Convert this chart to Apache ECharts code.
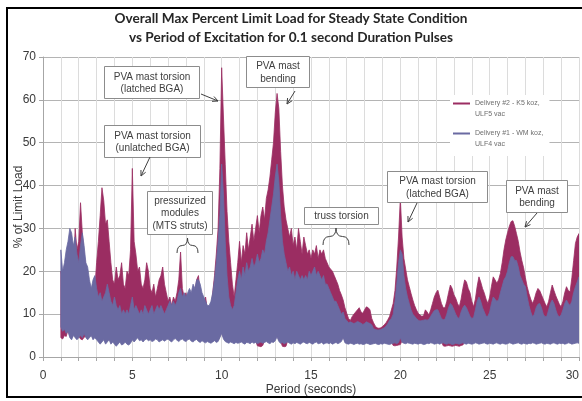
<!DOCTYPE html>
<html>
<head>
<meta charset="utf-8">
<script src="https://cdn.jsdelivr.net/npm/echarts@6/dist/echarts.min.js"></script>
<style>
  html, body { margin: 0; padding: 0; background: #fff; }
  #chart { width: 582px; height: 401px; }
</style>
</head>
<body>
<div id="chart"></div>
<script>
// Sampling grid of the excitation period (seconds)
const periodFirst = 1.0;
const periodStep = 0.1;

// Delivery #2 - K5 koz, ULF5 vac : peak and floor of the response at each period
const delivery2Max = [
  20,18,21,19,17,18,20,19,30,25,
  27,36,29,24,21,18,17,15,17,16,
  22,27,33,39.5,36.5,31,32,27,22,18,
  17,21,18,19,22,17,16,20,19,25,
  44,27,24,20,21,17,16,18,22,20,
  16,15,17,14,16,18,19,21,17,15,
  13,14,12,14,13,15,18,24.5,16,14,
  15,13,15,14,16,15,18,19,15,13,
  12,14,11,10,11,15,19,24,30,44,
  67.5,56,45,34,27,22,17,14,18,22,
  27,22,26,24,29,25,28,31,27,30,
  33,29,33,35,32,37,39,42,46,50,
  57,61.5,58,48,40,35,32,30,28,30,
  26,28,25,30,27,24,28,26,24,25,
  23,25,24,26,23,25,24,25,23,22,
  21,20.5,20,19,18,17,15.5,14.5,13.3,11.5,
  10.2,9,8.5,9.4,10,10.5,11,11.5,10.5,10.2,
  11,11.7,11.5,11,9,8,7.2,6.8,6.7,6.8,
  7.1,7.5,8,8.7,9.5,11,12.5,15.5,21,28,
  37,28,23,20.5,18,16.4,14.8,13.3,12,11,
  10.2,9.8,9.5,9.6,11,10.5,9.8,11,12.5,14,
  15,15.6,14,12.5,11.5,11.5,13,15,16.8,16,
  14.5,13.7,12.5,11.7,13.5,16,18,17.5,16,15,
  13,11.7,13.5,16.5,18.7,17.5,16,14.9,13.5,12.5,
  14,16.5,18.7,18,17.2,18,19.5,22,25,27.3,
  29,30.5,31.6,31.8,30.5,28.8,27,24.5,22.5,20.8,
  18.5,16.4,14.8,13.5,12.5,13.5,15,16,15.5,14.5,
  13.5,12.5,11.7,13,15,16.8,15.5,14.3,13.3,12.3,
  11.7,13,15,16.4,15.5,15.2,18.5,22.5,26.5,28,
  28.8
];
const delivery2Min = [
  4.5,4.2,5,4.8,6.3,4.9,4.4,5.4,4.9,4.4,
  4.9,4.2,4,4.6,4.9,4.4,4.9,5.4,4.4,4.9,
  4.4,3.9,3.4,3.9,4.4,3.4,3.9,4.4,3.4,3.9,
  3.4,2.9,3.4,3.9,3.2,3.4,3.9,3.4,3.2,3.6,
  4.4,3.9,4.4,4.9,4.2,4.4,3.9,4.4,4.6,4.2,
  4.4,4,4.2,4.6,4.4,3.9,4.2,4.4,4.1,4.4,
  4.6,4.2,3.9,4.4,4.7,4.3,4,4.4,4.6,4.2,
  4,4.4,4.6,4.1,3.9,4.3,4.5,4,3.8,4.2,
  3.9,3.7,4,3.8,3.6,3.9,4.2,3.8,4,4.9,
  5.9,4.6,4,3.8,3.6,3.9,3.7,3.5,3.8,3.6,
  3.7,3.9,3.6,3.4,3.8,3.7,3.5,3.9,3.6,3.8,
  2.6,2.5,2.4,2.7,3.8,4,3.7,3.5,3.9,3.8,
  4.2,5.1,4,3.6,2.5,2.4,2.5,3.9,3.6,3.4,
  3.7,3.5,3.8,3.6,3.4,3.7,3.9,3.6,3.5,3.8,
  3.6,3.4,3.7,3.9,3.5,3.6,3.8,3.4,3.6,3.7,
  3.5,3.7,3.4,3.6,3.8,3.5,3.7,4,4.9,3.7,
  3.5,3.4,3.6,3.5,3.3,3.5,3.6,3.4,3.5,3.3,
  3.4,3.6,3.5,3.3,3.4,3.5,3.6,3.4,3.3,3.5,
  3.4,3.6,3.5,3.4,3.3,3.5,2.7,2.6,2.7,2.8,
  2.9,3.8,3.6,3.5,3.7,3.6,3.5,3.4,3.6,3.5,
  3.4,3.6,3.5,3.3,3.4,3.6,3.5,3.7,3.6,3.4,
  3.5,3.6,3.4,3.6,2.6,2.5,2.6,2.7,2.6,2.5,
  2.6,2.7,2.6,2.5,2.7,2.8,3.5,3.4,3.6,3.5,
  3.4,3.5,3.7,3.6,3.4,3.5,3.6,3.7,3.5,3.4,
  3.6,3.5,3.4,3.6,3.7,3.5,3.4,3.6,3.5,3.4,
  3.5,3.7,3.6,3.4,3.5,3.6,3.7,3.5,3.4,3.6,
  3.5,3.4,3.6,3.5,3.7,3.6,3.4,3.5,3.6,3.7,
  3.5,3.4,3.6,3.5,3.4,3.6,3.7,3.5,3.4,3.6,
  3.5,3.6,3.4,3.5,3.7,3.6,3.4,3.5,3.6,3.7,
  3.6
];

// Delivery #1 - WM koz, ULF4 vac : peak and floor of the response at each period
const delivery1Max = [
  25,20,22,25,27,30,29,26,28,24,
  22,26,29,26,22,21,18,16,18,19,
  16,14,15,13,14,15,17,15,13,12,
  14,12,11,12,10,11,10,11,10,12,
  14,11,12,11,10,11,10,12,11,10,
  11,12,10,11,12,11,12,11,10,11,
  12,13,12,13,12,13,15,16,14,15,
  14,15,16,15,17,16,18,18,17,15,
  14,13,12,12,13,15,18,22,27,33,
  45,38,27,19,14,12,11,12,15,18,
  20,18,21,19,22,20,21,23,21,22,
  24,22,23,25,24,27,29,32,35,38,
  42,45,41,33,27,24,22,20,21,19,
  20,18,20,19,18,19,18,19,18,20,
  19,20,21,19,20,19,18,19,17,17,
  16,15,14,13,13,12,11,10,10.5,9,
  8.5,8,8.2,8,7.8,8,8.3,8.1,7.9,7.6,
  7.8,8.2,8,7.8,7.5,6.6,6.4,6.3,6.3,6.4,
  6.6,6.8,7.2,7.8,8.6,9,10,13,17,22,
  25,24,19,16,14,12.5,11,10,9.5,9,
  8.6,8.4,8.5,8.6,8.7,8.6,8.8,9.5,10.2,10.8,
  11,11,10,9,8.7,8.8,10,11.5,12.5,12,
  11,10,9.2,9,10.5,11.5,12.1,11.5,10.5,9.5,
  9,9.2,11,13,14,13,11.5,10.5,9.5,9.5,
  10.5,12.5,14,13.5,13,13.3,15,16.5,18,18.7,
  20,22,23.4,23.4,22.5,22.5,21,19,18,17,
  16.4,14,12,10.5,9.4,10,11.5,12.3,12.5,11.5,
  10,9.4,9.5,11,12.5,13.3,12.5,11,9.8,9.4,
  9.8,11,12.5,13.3,12.5,12,13,15,16.4,17.5,
  18.7
];
const delivery1Min = [
  7,6,6.5,5.5,6,4.5,4,5,4.5,4,
  4.5,5,4.5,5.5,4.5,4,4.5,5,4,4.5,
  4,3.5,3,3.5,4,3,3.5,4,3,3.5,
  3,2.5,3,3.5,2.8,3,3.5,3,2.8,3.2,
  4,3.5,4,4.5,3.8,4,3.5,4,4.2,3.8,
  4,3.6,3.8,4.2,4,3.5,3.8,4,3.7,4,
  4.2,3.8,3.5,4,4.3,3.9,3.6,4,4.2,3.8,
  3.6,4,4.2,3.7,3.5,3.9,4.1,3.6,3.4,3.8,
  3.5,3.3,3.6,3.4,3.2,3.5,3.8,3.4,3.6,4.5,
  5.5,4.2,3.6,3.4,3.2,3.5,3.3,3.1,3.4,3.2,
  3.3,3.5,3.2,3,3.4,3.3,3.1,3.5,3.2,3.4,
  3.1,3.3,3.5,3.2,3.4,3.6,3.3,3.1,3.5,3.4,
  3.8,4.7,3.6,3.2,3.4,3.1,3.3,3.5,3.2,3,
  3.3,3.1,3.4,3.2,3,3.3,3.5,3.2,3.1,3.4,
  3.2,3,3.3,3.5,3.1,3.2,3.4,3,3.2,3.3,
  3.1,3.3,3,3.2,3.4,3.1,3.3,3.6,4.5,3.3,
  3.1,3,3.2,3.1,2.9,3.1,3.2,3,3.1,2.9,
  3,3.2,3.1,2.9,3,3.1,3.2,3,2.9,3.1,
  3,3.2,3.1,3,2.9,3.1,3.2,3.3,3.1,3.4,
  4.5,3.4,3.2,3.1,3.3,3.2,3.1,3,3.2,3.1,
  3,3.2,3.1,2.9,3,3.2,3.1,3.3,3.2,3,
  3.1,3.2,3,3.2,3.3,3.1,3,3.2,3.1,2.9,
  3,3.2,3.1,3,3.2,3.3,3.1,3,3.2,3.1,
  3,3.1,3.3,3.2,3,3.1,3.2,3.3,3.1,3,
  3.2,3.1,3,3.2,3.3,3.1,3,3.2,3.1,3,
  3.1,3.3,3.2,3,3.1,3.2,3.3,3.1,3,3.2,
  3.1,3,3.2,3.1,3.3,3.2,3,3.1,3.2,3.3,
  3.1,3,3.2,3.1,3,3.2,3.3,3.1,3,3.2,
  3.1,3.2,3,3.1,3.3,3.2,3,3.1,3.2,3.3,
  3.2
];

const seriesNames = ['Delivery #2 - K5 koz,\nULF5 vac', 'Delivery #1 - WM koz,\nULF4 vac'];
const seriesColors = ['#9b2d62', '#6a6aa2'];
const xTicks = { min: 0, max: 30, labelEvery: 5 };
const yTicks = { min: 0, max: 70, step: 10 };

const FONT = '"Liberation Sans", Arial, sans-serif';
const TEXT = '#3a3a3a';

function periodAt(i) { return +(periodFirst + periodStep * i).toFixed(2); }

// One filled band per delivery: upper envelope forward, floor backward,
// every vertex placed through the cartesian scales of the grid.
function bandSeries(name, color, hi, lo) {
  return {
    name: name, type: 'custom', coordinateSystem: 'cartesian2d',
    silent: true, clip: true,
    itemStyle: { color: color },
    data: [[periodAt(0), lo[0]]],
    encode: { x: 0, y: 1 },
    renderItem: function (params, api) {
      const pts = [];
      for (let i = 0; i < hi.length; i++) pts.push(api.coord([periodAt(i), hi[i]]));
      for (let i = lo.length - 1; i >= 0; i--) pts.push(api.coord([periodAt(i), lo[i]]));
      return {
        type: 'polygon',
        shape: { points: pts },
        style: { fill: color, stroke: color, lineWidth: 0.8 }
      };
    }
  };
}

// Callout boxes, pointer arrows and braces
const callouts = [
  { box: [104, 66, 95, 32], lines: ['PVA mast torsion', '(latched BGA)'], arrow: [201, 94, 218, 101] },
  { box: [104, 125, 96, 32], lines: ['PVA mast torsion', '(unlatched BGA)'], arrow: [150, 157, 141, 176] },
  { box: [246, 56, 63, 31], lines: ['PVA mast', 'bending'], arrow: [295, 91, 287, 104] },
  { box: [147, 191, 65, 43], lines: ['pressurized', 'modules', '(MTS struts)'], brace: [177, 198, 238, 253] },
  { box: [304, 207, 74, 17], lines: ['truss torsion'], brace: [323, 349, 228, 245] },
  { box: [387, 171, 100, 31], lines: ['PVA mast torsion', '(latched BGA)'], arrow: [417, 203, 408, 222] },
  { box: [506, 180, 61, 32], lines: ['PVA mast', 'bending'], arrow: [537, 213, 525, 227] }
];

function calloutGraphics() {
  const out = [];
  const ink = '#404040';
  callouts.forEach(c => {
    const [x, y, w, h] = c.box;
    out.push({ type: 'rect', z: 100, shape: { x: x + 0.5, y: y + 0.5, width: w, height: h },
      style: { fill: '#fff', stroke: '#8c8c8c', lineWidth: 1 } });
    out.push({ type: 'text', z: 101, x: x + w / 2 + 0.5, y: y + h / 2 + 1,
      style: { text: c.lines.join('\n'), fontFamily: FONT, fontSize: 10, lineHeight: 12.5,
        fill: ink, align: 'center', verticalAlign: 'middle' } });
    if (c.arrow) {
      const [x1, y1, x2, y2] = c.arrow;
      const a = Math.atan2(y2 - y1, x2 - x1), len = 6, s = 0.45;
      out.push({ type: 'line', z: 101, shape: { x1, y1, x2, y2 }, style: { stroke: ink, lineWidth: 1 } });
      out.push({ type: 'polyline', z: 101, shape: { points: [
        [x2 - len * Math.cos(a - s), y2 - len * Math.sin(a - s)], [x2, y2],
        [x2 - len * Math.cos(a + s), y2 - len * Math.sin(a + s)] ] },
        style: { stroke: ink, lineWidth: 1, fill: null } });
    }
    if (c.brace) {
      const [l, r, top, bot] = c.brace;
      const m = (l + r) / 2, mid = (top + bot) / 2;
      const q = (x1, y1, cx, cy, x2, y2) => ({ type: 'bezierCurve', z: 101,
        shape: { x1, y1, cpx1: cx, cpy1: cy, x2, y2 }, style: { stroke: ink, lineWidth: 1, fill: null } });
      out.push(q(l, bot, l, mid, (l + m) / 2, mid));
      out.push(q((l + m) / 2, mid, m, mid, m, top));
      out.push(q(m, top, m, mid, (m + r) / 2, mid));
      out.push(q((m + r) / 2, mid, r, mid, r, bot));
    }
  });
  // outer chart border
  out.push({ type: 'rect', z: 120, shape: { x: 7, y: 8, width: 577, height: 389 },
    style: { fill: null, stroke: '#000', lineWidth: 2 } });
  return out;
}

const chart = echarts.init(document.getElementById('chart'), null, { renderer: 'canvas' });

chart.setOption({
  animation: false,
  backgroundColor: '#fff',
  title: {
    text: 'Overall Max Percent Limit Load for Steady State Condition\nvs Period of Excitation for 0.1 second Duration Pulses',
    left: 'center', top: 4,
    textStyle: { fontFamily: 'Lato, ' + FONT, fontWeight: 'bold', fontSize: 13.6, lineHeight: 19, color: '#262626' }
  },
  legend: {
    orient: 'vertical', left: 450, top: 95,
    backgroundColor: '#fff', padding: [3, 6, 6, 3], itemGap: 8,
    itemWidth: 17, itemHeight: 22,
    icon: 'path://M0,4.5H17V6.5H0Z M0,0H0.01V0.01H0Z M0,22H0.01V22.01H0Z',
    selectedMode: false,
    textStyle: { fontFamily: FONT, fontSize: 7, lineHeight: 11, color: '#6e6e6e' },
    data: seriesNames.map((n, i) => ({ name: n, itemStyle: { color: seriesColors[i] } }))
  },
  grid: { left: 43, right: 2, top: 57, bottom: 44, containLabel: false },
  xAxis: {
    type: 'value', min: xTicks.min, max: xTicks.max, interval: 1,
    name: 'Period (seconds)', nameLocation: 'middle', nameGap: 27,
    nameMoveOverlap: false,
    nameTextStyle: { fontFamily: FONT, fontSize: 12, color: TEXT },
    axisLine: { show: true, lineStyle: { color: '#a6a6a6' } },
    axisTick: { show: true, length: 4, lineStyle: { color: '#a6a6a6' } },
    axisLabel: {
      fontFamily: FONT, fontSize: 12, color: TEXT, margin: 13, alignMaxLabel: 'right',
      formatter: v => (Math.round(v) % xTicks.labelEvery === 0 ? String(Math.round(v)) : '')
    },
    splitLine: { show: true, lineStyle: { color: '#dcdcdc', width: 1 } }
  },
  yAxis: {
    type: 'value', min: yTicks.min, max: yTicks.max, interval: yTicks.step,
    name: '% of Limit Load', nameLocation: 'middle', nameGap: 18, nameRotate: 90,
    nameMoveOverlap: false,
    nameTextStyle: { fontFamily: FONT, fontSize: 12, color: TEXT },
    axisLine: { show: true, lineStyle: { color: '#a6a6a6' } },
    axisTick: { show: true, length: 4, lineStyle: { color: '#a6a6a6' } },
    axisLabel: { fontFamily: FONT, fontSize: 12, color: TEXT, margin: 7 },
    splitLine: { show: true, lineStyle: { color: '#b4b4b4', width: 1 } }
  },
  series: [
    bandSeries(seriesNames[0], seriesColors[0], delivery2Max, delivery2Min),
    bandSeries(seriesNames[1], seriesColors[1], delivery1Max, delivery1Min)
  ],
  graphic: { elements: calloutGraphics() }
});
</script>
</body>
</html>
